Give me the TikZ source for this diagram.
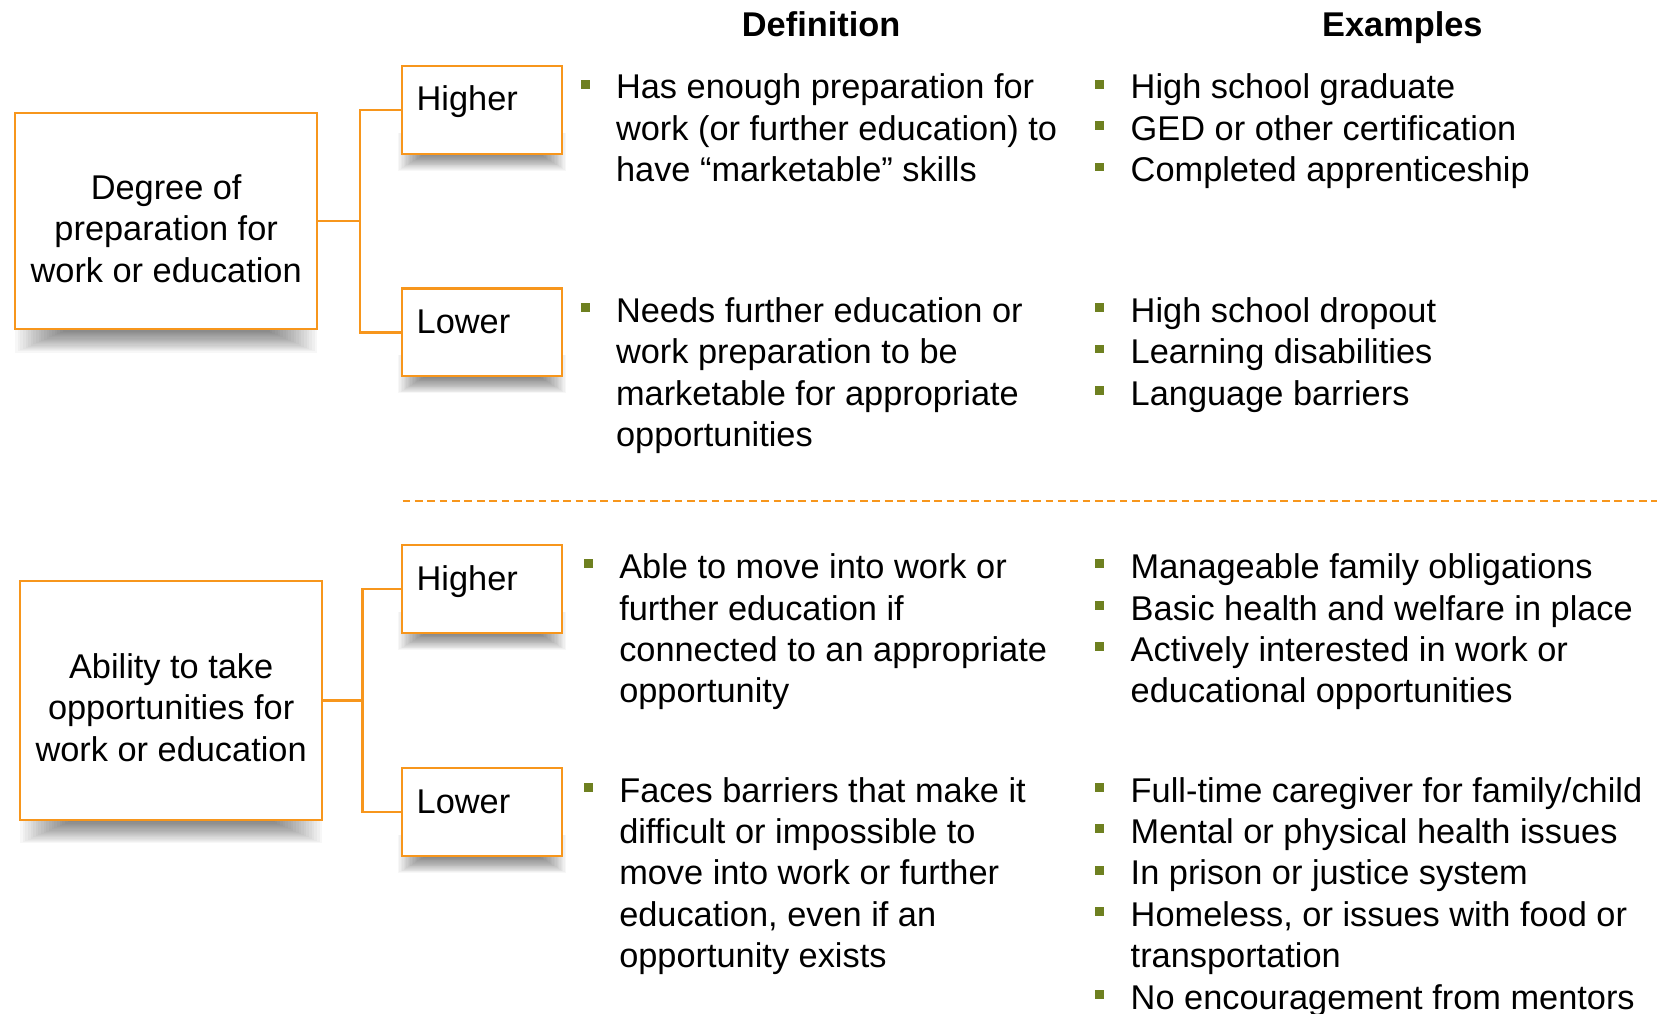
\documentclass[tikz,border=0pt]{standalone}
\usepackage{fontspec}
\setmainfont{Liberation Sans}
\usetikzlibrary{backgrounds}

\definecolor{boxorange}{RGB}{247,150,28}
\definecolor{bulletgreen}{RGB}{110,128,32}

% square bullet and list/line helpers
\newcommand\bul{\textcolor{bulletgreen}{\rule[9.7pt]{8.4pt}{8.4pt}}}
\newcommand\itemlist[1]{\begin{tabular}[t]{@{}p{33.5pt}@{}l@{}}#1\end{tabular}}
\newcommand\centerlines[1]{\begin{tabular}[t]{@{}c@{}}#1\end{tabular}}

% soft shadow under a box: node, inset, x step, y step, steps
\newcommand\dropshadow[5]{%
  \foreach \s in {1,...,#5}{%
    \fill[black, opacity=0.03]
      ([xshift={#2-\s*#3}, yshift=20pt]#1.south west) rectangle
      ([xshift={-#2+\s*#3}, yshift={-\s*#4}]#1.south east);
  }%
}

\tikzset{
  frame/.style={draw=boxorange, line width=2pt, fill=white, inner sep=0pt, outer sep=0pt},
  conn/.style={draw=boxorange, line width=2.2pt},
  txt/.style={inner sep=0pt, outer sep=0pt, text=black,
              font=\fontsize{32.5}{39.2}\selectfont},
  head/.style={txt, font=\fontsize{32.5}{39.2}\selectfont\bfseries},
  sep/.style={draw=boxorange, line width=1.8pt, dash pattern=on 7.3pt off 4.4pt},
}

\begin{document}
\begin{tikzpicture}[x=1pt, y=-1pt]
  \useasboundingbox (0,0) rectangle (1568,959);
  \clip (0,0) rectangle (1568,959);

  % column headings
  \node[head, anchor=base] (hdef) at (777,35) {Definition};
  \node[head, anchor=base] (hex) at (1327,35) {Examples};

  % ---------- preparation ----------
  \node[frame, minimum width=286.1pt, minimum height=205pt] (B1) at (157.25,209.1) {};
  \node[frame, minimum width=151.1pt, minimum height=83.2pt] (H1) at (456.25,103.8) {};
  \node[frame, minimum width=151.1pt, minimum height=83.2pt] (L1) at (456.25,314.6) {};

  \node[txt, anchor=base] (B1t) at (157.25,188.6)
    {\centerlines{Degree of\\preparation for\\work or education}};
  \node[txt, anchor=base west] (H1t) at (394.3,105) {Higher};
  \node[txt, anchor=base west] (L1t) at (394.3,315.8) {Lower};

  \coordinate (j1) at (340.5,209.1);
  \draw[conn] (B1.east) -- (j1);
  \draw[conn] (H1.west) -| (j1) |- (L1.west);

  \node[txt, anchor=base west] (D1) at (549.5,93.5) {\itemlist{%
    \bul & Has enough preparation for\\
         & work (or further education) to\\
         & have “marketable” skills}};
  \node[txt, anchor=base west] (D2) at (549.5,305) {\itemlist{%
    \bul & Needs further education or\\
         & work preparation to be\\
         & marketable for appropriate\\
         & opportunities}};
  \node[txt, anchor=base west] (E1) at (1036.5,93.5) {\itemlist{%
    \bul & High school graduate\\
    \bul & GED or other certification\\
    \bul & Completed apprenticeship}};
  \node[txt, anchor=base west] (E2) at (1036.5,305) {\itemlist{%
    \bul & High school dropout\\
    \bul & Learning disabilities\\
    \bul & Language barriers}};

  % separator between the two dimensions
  \coordinate (sepL) at (381,474);
  \coordinate (sepR) at (1568,474);
  \draw[sep] (sepL) -- (sepR);

  % ---------- ability ----------
  \node[frame, minimum width=286.1pt, minimum height=226.2pt] (B2) at (161.95,662.9) {};
  \node[frame, minimum width=151.1pt, minimum height=83.2pt] (H2) at (456.25,557.6) {};
  \node[frame, minimum width=151.1pt, minimum height=83.2pt] (L2) at (456.25,768.6) {};

  \node[txt, anchor=base] (B2t) at (161.95,641.9)
    {\centerlines{Ability to take\\opportunities for\\work or education}};
  \node[txt, anchor=base west] (H2t) at (394.3,558.8) {Higher};
  \node[txt, anchor=base west] (L2t) at (394.3,769.8) {Lower};

  \coordinate (j2) at (343,662.9);
  \draw[conn] (B2.east) -- (j2);
  \draw[conn] (H2.west) -| (j2) |- (L2.west);

  \node[txt, anchor=base west] (D3) at (552.5,547.5) {\itemlist{%
    \bul & Able to move into work or\\
         & further education if\\
         & connected to an appropriate\\
         & opportunity}};
  \node[txt, anchor=base west] (D4) at (552.5,759) {\itemlist{%
    \bul & Faces barriers that make it\\
         & difficult or impossible to\\
         & move into work or further\\
         & education, even if an\\
         & opportunity exists}};
  \node[txt, anchor=base west] (E3) at (1036.5,547.5) {\itemlist{%
    \bul & Manageable family obligations\\
    \bul & Basic health and welfare in place\\
    \bul & Actively interested in work or\\
         & educational opportunities}};
  \node[txt, anchor=base west] (E4) at (1036.5,759) {\itemlist{%
    \bul & Full-time caregiver for family/child\\
    \bul & Mental or physical health issues\\
    \bul & In prison or justice system\\
    \bul & Homeless, or issues with food or\\
         & transportation\\
    \bul & No encouragement from mentors}};

  % shadows behind the boxes
  \begin{scope}[on background layer]
    \dropshadow{B1}{50}{2.5}{1.1}{20}
    \dropshadow{B2}{50}{2.5}{1.1}{20}
    \dropshadow{H1}{22}{1.3}{0.8}{20}
    \dropshadow{L1}{22}{1.3}{0.8}{20}
    \dropshadow{H2}{22}{1.3}{0.8}{20}
    \dropshadow{L2}{22}{1.3}{0.8}{20}
  \end{scope}
\end{tikzpicture}
\end{document}
